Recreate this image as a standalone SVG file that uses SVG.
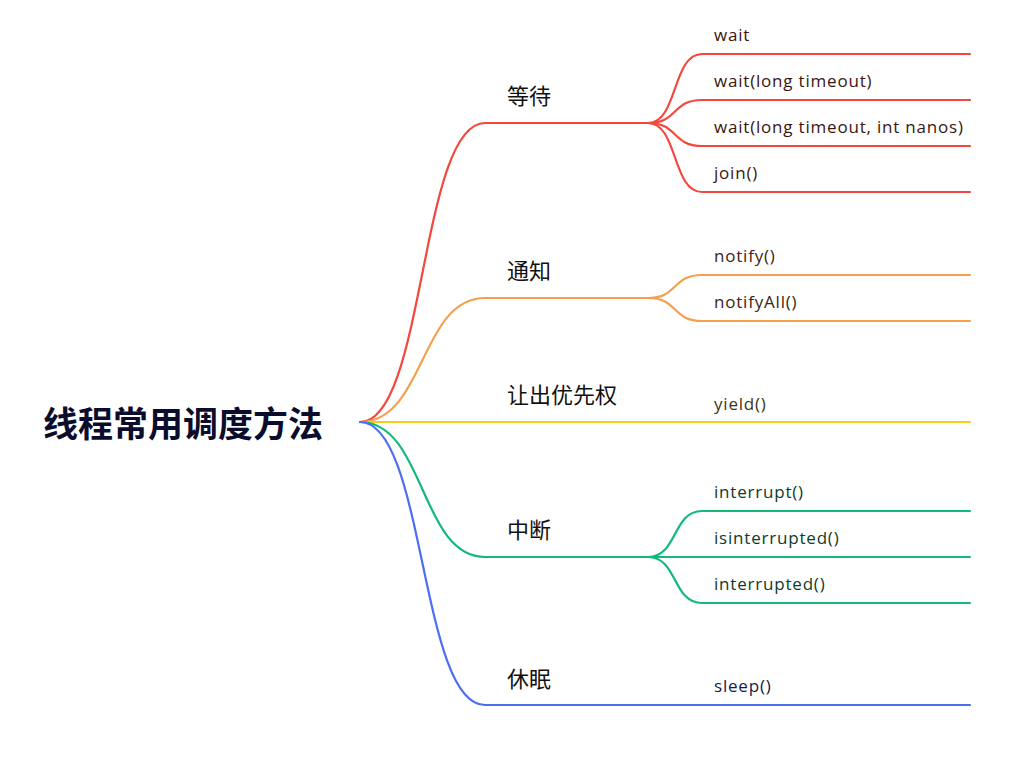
<svg xmlns="http://www.w3.org/2000/svg" width="1027" height="765" viewBox="0 0 1027 765">
<style>
.c{fill:none;stroke-width:2.2;stroke-linecap:round}
.r{stroke:#f4473d}.o{stroke:#f5a04f}.y{stroke:#f6ce1e}.g{stroke:#12b97a}.b{stroke:#4c6ef5}
.root{font-family:"Noto Sans CJK SC",sans-serif;font-weight:bold;font-size:35px;fill:#0c0c2c}
.br{font-family:"Noto Sans CJK SC",sans-serif;font-size:22px;fill:#111}
.lf{font-family:"Open Sans","Noto Sans",sans-serif;font-size:17px;letter-spacing:0.8px}
</style>
<rect width="1027" height="765" fill="#fff"/>
<g id="connectors">
<path class="c r" d="M360,422 C425,422 420,123 485,123 L648,123"/>
<path class="c o" d="M360,422 C425,422 420,298 485,298 L648,298"/>
<path class="c y" d="M360,422 L970,422"/>
<path class="c g" d="M360,422 C425,422 420,557 485,557 L648,557"/>
<path class="c b" d="M360,422 C425,422 420,705 485,705 L970,705"/>
<path class="c r" d="M648,123 C678,123 672,54 702,54 L970,54"/>
<path class="c r" d="M648,123 C678,123 672,100 702,100 L970,100"/>
<path class="c r" d="M648,123 C678,123 672,146 702,146 L970,146"/>
<path class="c r" d="M648,123 C678,123 672,192 702,192 L970,192"/>
<path class="c o" d="M648,298 C678,298 672,275 702,275 L970,275"/>
<path class="c o" d="M648,298 C678,298 672,321 702,321 L970,321"/>
<path class="c g" d="M648,557 C678,557 672,511 702,511 L970,511"/>
<path class="c g" d="M648,557 L970,557"/>
<path class="c g" d="M648,557 C678,557 672,603 702,603 L970,603"/>
</g>
<g id="root"><text class="root" x="43" y="437">线程常用调度方法</text></g>
<g id="wait-group"><text class="br" x="507" y="104">等待</text></g>
<g id="notify-group"><text class="br" x="507" y="279">通知</text></g>
<g id="yield-group"><text class="br" x="507" y="403">让出优先权</text></g>
<g id="interrupt-group"><text class="br" x="507" y="538">中断</text></g>
<g id="sleep-group"><text class="br" x="507" y="687">休眠</text></g>
<g id="leaf-wait"><text class="lf" x="714" y="41" fill="#3a1510">wait</text></g>
<g id="leaf-wait-timeout"><text class="lf" x="714" y="87" fill="#3a1510">wait(long timeout)</text></g>
<g id="leaf-wait-nanos"><text class="lf" x="714" y="133" fill="#3a1510">wait(long timeout, int nanos)</text></g>
<g id="leaf-join"><text class="lf" x="714" y="179" fill="#3a1510">join()</text></g>
<g id="leaf-notify"><text class="lf" x="714" y="262" fill="#3d2410">notify()</text></g>
<g id="leaf-notifyall"><text class="lf" x="714" y="308" fill="#3d2410">notifyAll()</text></g>
<g id="leaf-yield"><text class="lf" x="714" y="410" fill="#3d3410">yield()</text></g>
<g id="leaf-interrupt"><text class="lf" x="714" y="498" fill="#0f3a2a">interrupt()</text></g>
<g id="leaf-isinterrupted"><text class="lf" x="714" y="544" fill="#0f3a2a">isinterrupted()</text></g>
<g id="leaf-interrupted"><text class="lf" x="714" y="590" fill="#0f3a2a">interrupted()</text></g>
<g id="leaf-sleep"><text class="lf" x="714" y="692" fill="#141a4a">sleep()</text></g>
</svg>
